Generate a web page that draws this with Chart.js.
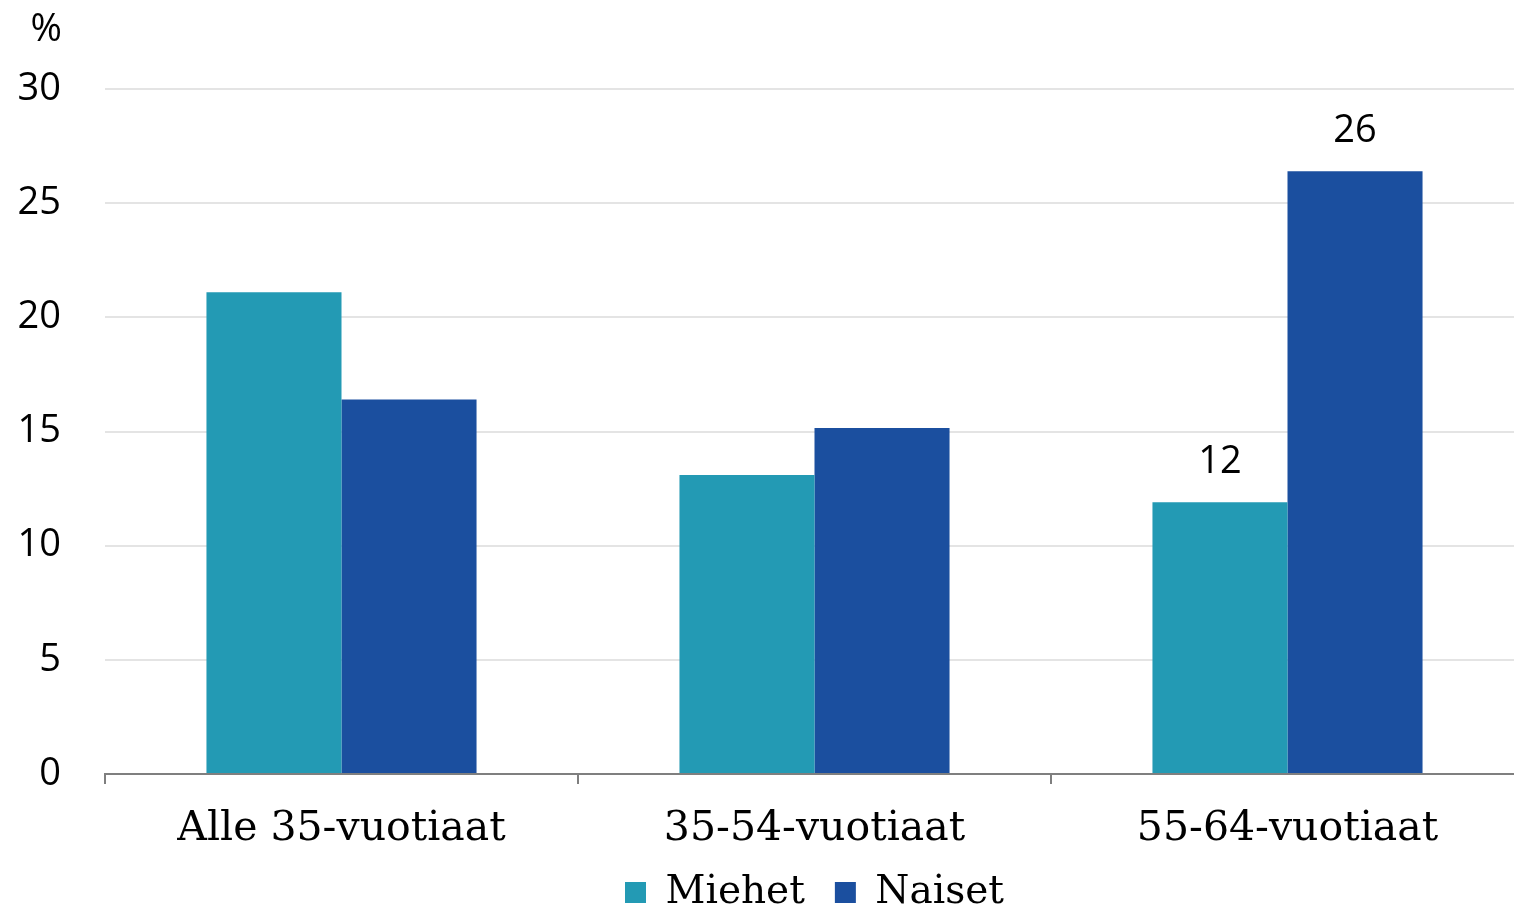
<!DOCTYPE html>
<html>
<head>
<meta charset="utf-8">
<script src="https://cdn.jsdelivr.net/npm/chart.js@4.4.1/dist/chart.umd.min.js"></script>
<style>
html,body{margin:0;padding:0;background:#fff;overflow:hidden;}
#wrap{width:1514px;height:906px;position:relative;overflow:hidden;}
</style>
</head>
<body>
<div id="wrap"><canvas id="c" width="1524" height="906"></canvas></div>
<script>
const categories = ["Alle 35-vuotiaat", "35-54-vuotiaat", "55-64-vuotiaat"];
const seriesNames = ["Miehet", "Naiset"];
const miehet = [21.1, 13.1, 11.9];
const naiset = [16.4, 15.15, 26.4];
const miehetLabels = [null, null, "12"];
const naisetLabels = [null, null, "26"];
const yTicks = [0, 5, 10, 15, 20, 25, 30];
const unitLabel = "%";

const colors = ["#239AB4", "#1B4F9F"];
const sansFont = "'Open Sans', 'Liberation Sans', sans-serif";
const serifFont = "'DejaVu Serif', serif";

const labelPlugin = {
  id: 'valueLabels',
  afterDatasetsDraw(chart) {
    const ctx = chart.ctx;
    const lists = [miehetLabels, naisetLabels];
    ctx.save();
    ctx.font = "38px " + sansFont;
    ctx.fillStyle = "#000";
    ctx.textAlign = "center";
    ctx.textBaseline = "middle";
    lists.forEach((lst, di) => {
      const meta = chart.getDatasetMeta(di);
      lst.forEach((t, i) => {
        if (t == null) return;
        const el = meta.data[i];
        ctx.fillText(t, el.x, el.y - 40);
      });
    });
    ctx.textAlign = "right";
    ctx.fillText(unitLabel, 62, 30);
    ctx.restore();
  }
};

new Chart(document.getElementById('c'), {
  type: 'bar',
  data: {
    labels: categories,
    datasets: [
      { label: seriesNames[0], data: miehet, backgroundColor: colors[0], borderWidth: 0 },
      { label: seriesNames[1], data: naiset, backgroundColor: colors[1], borderWidth: 0 }
    ]
  },
  options: {
    responsive: false,
    animation: false,
    devicePixelRatio: 1,
    layout: { padding: { top: 89, left: 0, right: 0, bottom: -16 } },
    datasets: { bar: { categoryPercentage: 0.571, barPercentage: 1.0 } },
    plugins: {
      legend: {
        position: 'bottom',
        fullSize: false,
        labels: {
          font: { family: serifFont, size: 39 },
          color: '#000',
          boxWidth: 21,
          boxHeight: 21,
          padding: 30
        }
      },
      tooltip: { enabled: false },
      title: { display: false }
    },
    scales: {
      x: {
        grid: { display: true, drawOnChartArea: false, drawTicks: true, tickLength: 10, color: '#7f7f7f', lineWidth: 2, offset: true },
        border: { display: true, color: '#7f7f7f', width: 2 },
        ticks: { font: { family: serifFont, size: 41 }, color: '#000', padding: 21 },
        afterFit(s) { s.height = 69; s._computeLabelArea = function () { return undefined; }; }
      },
      y: {
        min: 0, max: 30,
        afterBuildTicks(s) { s.ticks = yTicks.map(v => ({ value: v })); },
        grid: { color: '#e4e4e4', lineWidth: 2, drawTicks: false },
        border: { display: false },
        ticks: { font: { family: sansFont, size: 38 }, color: '#000', padding: 44 },
        afterFit(s) { s.width = 105; }
      }
    }
  },
  plugins: [labelPlugin]
});
</script>
</body>
</html>
